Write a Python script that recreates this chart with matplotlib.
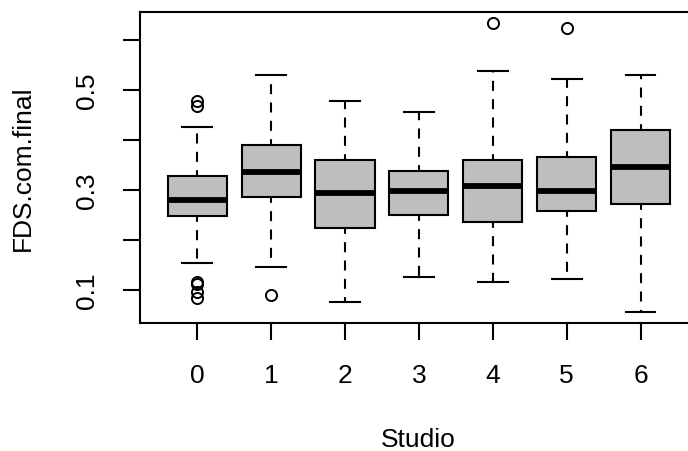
import matplotlib
matplotlib.use('Agg')
import matplotlib.pyplot as plt

plt.rcParams['font.family'] = ['Liberation Sans', 'DejaVu Sans']

# box statistics
studios = ['0', '1', '2', '3', '4', '5', '6']
q1 = [0.247, 0.285, 0.223, 0.249, 0.236, 0.257, 0.272]
med = [0.279, 0.335, 0.294, 0.297, 0.307, 0.297, 0.345]
q3 = [0.327, 0.390, 0.360, 0.337, 0.360, 0.366, 0.420]
whislo = [0.154, 0.145, 0.075, 0.125, 0.116, 0.121, 0.056]
whishi = [0.426, 0.529, 0.477, 0.455, 0.538, 0.521, 0.530]
fliers = [[0.477, 0.467, 0.116, 0.111, 0.095, 0.083],
          [0.090], [], [], [0.633], [0.624], []]

stats = []
for i in range(len(studios)):
    stats.append(dict(q1=q1[i], med=med[i], q3=q3[i], whislo=whislo[i],
                      whishi=whishi[i], fliers=fliers[i]))

fig = plt.figure(figsize=(6.88, 4.52), dpi=100)
ax = fig.add_axes([139.5 / 688, 128.3 / 452, 558.8 / 688, 311 / 452])

ax.bxp(stats, positions=range(1, 8), widths=0.8, patch_artist=True,
       boxprops=dict(facecolor='#bebebe', edgecolor='black', linewidth=1.5),
       medianprops=dict(color='black', linewidth=4.2, solid_capstyle='butt'),
       whiskerprops=dict(color='black', linewidth=1.5, linestyle=(2, (4.8, 4.0))),
       capprops=dict(color='black', linewidth=1.5),
       capwidths=0.4,
       flierprops=dict(marker='o', markerfacecolor='none', markeredgecolor='black',
                       markersize=8, markeredgewidth=1.4))

ax.set_xlim(0.22, 7.78)
ax.set_ylim(0.034, 0.656)
ax.set_xticks(range(1, 8))
ax.set_xticklabels(studios)
ax.set_yticks([0.1, 0.2, 0.3, 0.4, 0.5, 0.6])
ax.set_yticklabels(['0.1', '', '0.3', '', '0.5', ''], rotation=90, va='center')

for s in ax.spines.values():
    s.set_linewidth(1.5)
ax.tick_params(axis='both', length=12, width=1.5, labelsize=19)
ax.tick_params(axis='x', pad=17)
ax.tick_params(axis='y', pad=17)

ax.set_xlabel('Studio', fontsize=19)
ax.set_ylabel('FDS.com.final', fontsize=19)
ax.xaxis.set_label_coords(0.498, -0.374)
ax.xaxis.label.set_va('center')
ax.yaxis.set_label_coords(-0.2085, 0.5)
ax.yaxis.label.set_va('center')

fig.savefig('out.png', dpi=100)
